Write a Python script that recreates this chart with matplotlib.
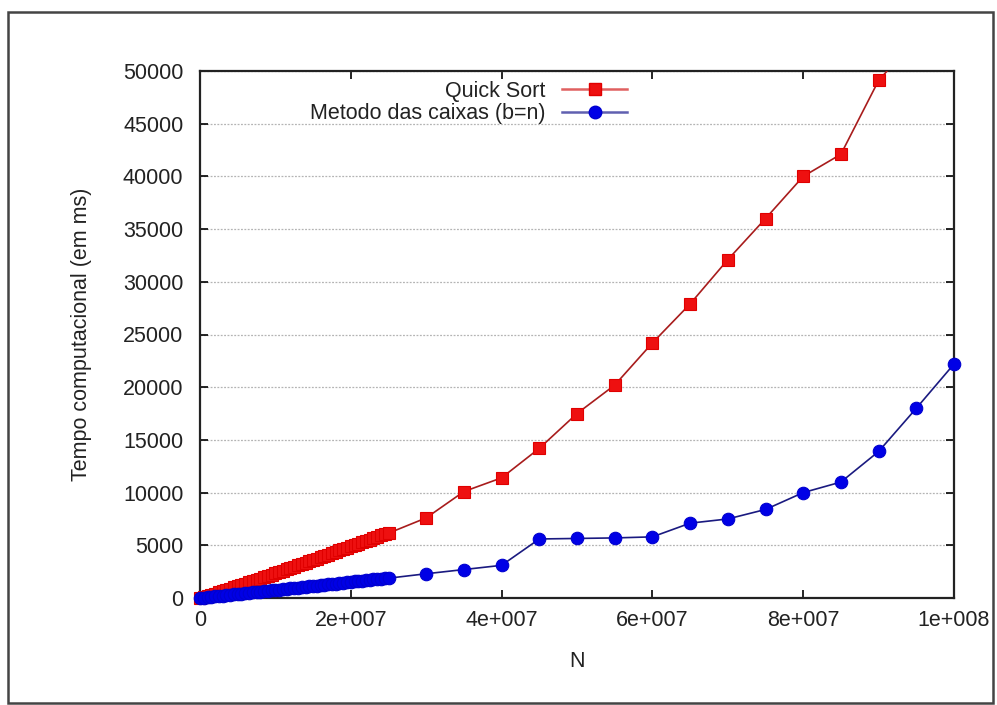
import matplotlib
matplotlib.use("Agg")
import matplotlib.pyplot as plt
from matplotlib.patches import Rectangle
from matplotlib.ticker import FixedLocator, FixedFormatter

plt.rcParams['font.family'] = ['Liberation Sans', 'DejaVu Sans']

# ---- data (N in units of 1e6) ----
n_millions = [0, 0.5, 1, 1.5, 2, 2.5, 3, 3.5, 4, 4.5, 5, 5.5, 6, 6.5, 7, 7.5, 8, 8.5, 9, 9.5,
              10, 10.5, 11, 11.5, 12, 12.5, 13, 13.5, 14, 14.5, 15, 15.5, 16, 16.5, 17, 17.5,
              18, 18.5, 19, 19.5, 20, 20.5, 21, 21.5, 22, 22.5, 23, 23.5, 24, 24.5, 25,
              30, 35, 40, 45, 50, 55, 60, 65, 70, 75, 80, 85, 90, 95, 100]
quick_sort = [0, 95, 200, 310, 420, 535, 650, 765, 880, 1000, 1120, 1240, 1360, 1480, 1600,
              1725, 1850, 1975, 2100, 2225, 2350, 2475, 2600, 2725, 2850, 2975, 3100, 3225,
              3350, 3480, 3610, 3735, 3860, 3990, 4120, 4250, 4380, 4510, 4640, 4770, 4900,
              5025, 5150, 5280, 5410, 5540, 5670, 5800, 5930, 6040, 6150,
              7600, 10100, 11400, 14200, 17500, 20200, 24200, 27900, 32100, 36000, 40000,
              42100, 49100, 53100, 57500]
metodo_caixas = [0, 38, 75, 112, 150, 188, 225, 262, 300, 340, 380, 418, 455, 492, 530, 570,
                 610, 648, 685, 722, 760, 800, 840, 878, 915, 952, 990, 1030, 1070, 1108,
                 1145, 1182, 1220, 1260, 1300, 1338, 1375, 1412, 1450, 1490, 1530, 1568,
                 1605, 1642, 1680, 1720, 1760, 1798, 1835, 1858, 1880,
                 2300, 2700, 3100, 5600, 5650, 5700, 5800, 7100, 7500, 8400, 10000,
                 11000, 13900, 18000, 22200]

x_ticks = [0, 2e7, 4e7, 6e7, 8e7, 1e8]
x_tick_labels = ["0", "2e+007", "4e+007", "6e+007", "8e+007", "1e+008"]
y_ticks = [0, 5000, 10000, 15000, 20000, 25000, 30000, 35000, 40000, 45000, 50000]
y_tick_labels = [str(v) for v in y_ticks]

label_qs = "Quick Sort"
label_mc = "Metodo das caixas (b=n)"

W, H = 997, 705
FS = 15.5
fig = plt.figure(figsize=(W / 100, H / 100), dpi=100)
ax = fig.add_axes([200 / W, 1 - 598 / H, (954 - 200) / W, (598 - 71) / H])

N = [v * 1e6 for v in n_millions]
XMAX, YMAX = 1e8, 50000

def split_visible(xs, ys):
    px, py = [], []
    for a, b in zip(xs, ys):
        if a <= XMAX and b <= YMAX:
            px.append(a)
            py.append(b)
    return px, py

red_line = '#a81c1c'
red_mark = '#ee1010'
blue_line = '#1a1a80'
blue_mark = '#0000e6'
MS = 9.0

# lines (clipped)
ax.plot(N, quick_sort, color=red_line, lw=1.2, zorder=3)
ax.plot(N, metodo_caixas, color=blue_line, lw=1.2, zorder=3)
# markers
qx, qy = split_visible(N, quick_sort)
mx, my = split_visible(N, metodo_caixas)
ax.plot(qx, qy, ls='none', marker='s', ms=MS, mfc=red_mark, mec='#e00000', mew=0.8,
        clip_on=False, zorder=4)
ax.plot(mx, my, ls='none', marker='o', ms=MS, mfc=blue_mark, mec='#0000d0', mew=0.8,
        clip_on=False, zorder=4)

# legend handles
h1, = ax.plot([], [], color='#e06060', lw=1.8, marker='s', ms=MS, mfc=red_mark, mec='#e00000')
h2, = ax.plot([], [], color='#6060b0', lw=1.8, marker='o', ms=MS, mfc=blue_mark, mec='#0000d0')

ax.set_xlim(0, XMAX)
ax.set_ylim(0, YMAX)

ax.xaxis.set_major_locator(FixedLocator(x_ticks))
ax.xaxis.set_major_formatter(FixedFormatter(x_tick_labels))
ax.yaxis.set_major_locator(FixedLocator(y_ticks))
ax.yaxis.set_major_formatter(FixedFormatter(y_tick_labels))

ax.tick_params(axis='both', direction='in', length=6, width=1.2, colors='black',
               labelsize=FS, top=True, right=True)
ax.tick_params(axis='x', pad=9)
ax.tick_params(axis='y', pad=12)
for lab in ax.get_xticklabels() + ax.get_yticklabels():
    lab.set_color('#222222')

ax.yaxis.grid(True, color='#b4b4b4', lw=0.9, ls=(0, (1.5, 1.2)))
ax.xaxis.grid(False)
ax.set_axisbelow(True)

for s in ax.spines.values():
    s.set_linewidth(1.6)
    s.set_color('#222222')

ax.set_xlabel("N", fontsize=FS, color='#222222', labelpad=14)
ax.set_ylabel("Tempo computacional (em ms)", fontsize=FS, color='#222222', labelpad=22)

leg = ax.legend([h1, h2], [label_qs, label_mc], loc='upper right',
                bbox_to_anchor=(627 / W, 1 - 81 / H), bbox_transform=fig.transFigure,
                frameon=False, markerfirst=False, fontsize=FS, handlelength=3.0,
                handletextpad=0.8, labelspacing=0.05, borderpad=0, borderaxespad=0)
for t in leg.get_texts():
    t.set_color('#222222')

# outer frame
fig.patches.append(Rectangle((8 / W, 2 / H), 985 / W, 691 / H, transform=fig.transFigure,
                             fill=False, edgecolor='#444444', lw=1.8, zorder=10))

fig.savefig("out.png", dpi=100, facecolor='white')
